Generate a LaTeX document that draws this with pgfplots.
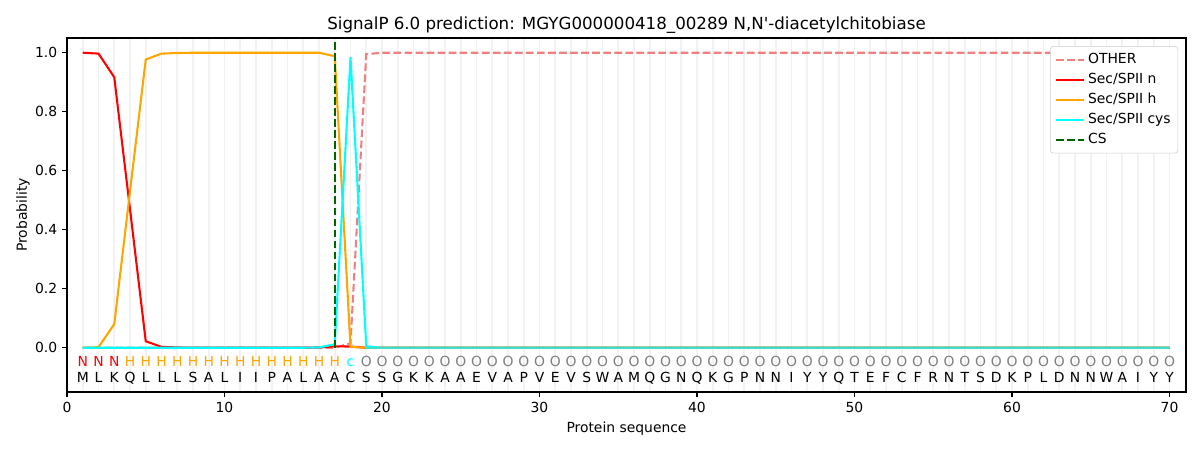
\documentclass[border=0pt]{standalone}
\usepackage{fontspec}
\setmainfont{DejaVu Sans}[Ligatures=TeXOff]
\usepackage{pgfplots}
\pgfplotsset{compat=1.18}
\usepackage{pgfplotstable}
\definecolor{other}{RGB}{240,128,128}
\definecolor{spn}{RGB}{255,0,0}
\definecolor{sph}{RGB}{255,165,0}
\definecolor{spc}{RGB}{0,255,255}
\definecolor{csgreen}{RGB}{0,100,0}
\definecolor{basel}{RGB}{64,224,200}
\definecolor{ogray}{RGB}{128,128,128}
\pgfplotstableread{
x l
1 M
2 L
3 K
4 Q
5 L
6 L
7 L
8 S
9 A
10 L
11 I
12 I
13 P
14 A
15 L
16 A
17 A
18 C
19 S
20 S
21 G
22 K
23 K
24 A
25 A
26 E
27 V
28 A
29 P
30 V
31 E
32 V
33 S
34 W
35 A
36 M
37 Q
38 G
39 N
40 Q
41 K
42 G
43 P
44 N
45 N
46 I
47 Y
48 Y
49 Q
50 T
51 E
52 F
53 C
54 F
55 R
56 N
57 T
58 S
59 D
60 K
61 P
62 L
63 D
64 N
65 N
66 W
67 A
68 I
69 Y
70 Y
}\seqtable
\pgfplotstableread{
x l
1 N
2 N
3 N
}\ntable
\pgfplotstableread{
x l
4 H
5 H
6 H
7 H
8 H
9 H
10 H
11 H
12 H
13 H
14 H
15 H
16 H
17 H
}\htable
\pgfplotstableread{
x l
18 c
}\ctable
\pgfplotstableread{
x l
19 O
20 O
21 O
22 O
23 O
24 O
25 O
26 O
27 O
28 O
29 O
30 O
31 O
32 O
33 O
34 O
35 O
36 O
37 O
38 O
39 O
40 O
41 O
42 O
43 O
44 O
45 O
46 O
47 O
48 O
49 O
50 O
51 O
52 O
53 O
54 O
55 O
56 O
57 O
58 O
59 O
60 O
61 O
62 O
63 O
64 O
65 O
66 O
67 O
68 O
69 O
70 O
}\otable
\begin{document}
\begin{tikzpicture}
\path[use as bounding box] (-48.24pt,-41.76pt) rectangle (815.76pt,282.24pt);
\begin{axis}[
  scale only axis,
  width=805.7pt, height=254.9pt,
  xmin=0, xmax=71.05, ymin=-0.15, ymax=1.05,
  xtick={0,10,...,70},
  ytick={0,0.2,0.4,0.6,0.8,1.0},
  minor xtick={1,...,70},
  xminorgrids,
  minor grid style={draw=black!5, line width=1.1pt},
  minor tick length=0pt,
  major tick length=3.5pt,
  tick align=outside,
  xtick pos=bottom, ytick pos=left,
  axis line style={line width=0.8pt},
  tick style={line width=0.8pt, black},
  yticklabel style={/pgf/number format/fixed, /pgf/number format/precision=1, /pgf/number format/fixed zerofill},
  /pgf/number format/assume math mode=true,
  ticklabel style={font=\fontsize{10}{12}\selectfont},
  label style={font=\fontsize{10}{12}\selectfont},
  xlabel={Protein sequence},
  ylabel={Probability},
  ylabel style={yshift=-3pt},
  title={SignalP 6.0 prediction: MGYG000000418\_00289 N,N'-diacetylchitobiase},
  title style={font=\fontsize{12}{14}\selectfont, yshift=-6.5pt},
  legend style={at={(0.993,0.977)}, anchor=north east, draw=black!20, rounded corners=2pt, fill=white, font=\fontsize{10}{12}\selectfont, row sep=1.4pt, inner sep=3.2pt},
  legend cell align=left,
  legend image code/.code={\draw[#1] plot coordinates {(0cm,0cm) (0.36cm,0cm) (0.72cm,0cm)};},
  every axis plot/.append style={line width=1.5pt},
]
\addplot[other, dash pattern=on 5.55pt off 2.4pt] coordinates {
(1,0)(2,0)(3,0)(4,0)(5,0)(6,0)(7,0)(8,0)(9,0)(10,0)(11,0)(12,0)(13,0)(14,0)(15,0)(16,0)(17,0)(18,0.015)(19,0.995)(20,1)
(21,1)(22,1)(23,1)(24,1)(25,1)(26,1)(27,1)(28,1)(29,1)(30,1)(31,1)(32,1)(33,1)(34,1)(35,1)(36,1)(37,1)(38,1)(39,1)(40,1)
(41,1)(42,1)(43,1)(44,1)(45,1)(46,1)(47,1)(48,1)(49,1)(50,1)(51,1)(52,1)(53,1)(54,1)(55,1)(56,1)(57,1)(58,1)(59,1)(60,1)
(61,1)(62,1)(63,1)(64,1)(65,1)(66,1)(67,1)(68,1)(69,1)(70,1)};
\addlegendentry{OTHER}
\addplot[spn] coordinates {
(1,1.0)(2,0.997)(3,0.917)(4,0.47)(5,0.022)(6,0.003)(7,0.001)(8,0)(9,0)(10,0)(11,0)(12,0)(13,0)(14,0)(15,0)(16,0.001)(17,0.005)(18,0.004)(19,0)(20,0)
(21,0)(22,0)(23,0)(24,0)(25,0)(26,0)(27,0)(28,0)(29,0)(30,0)(31,0)(32,0)(33,0)(34,0)(35,0)(36,0)(37,0)(38,0)(39,0)(40,0)
(41,0)(42,0)(43,0)(44,0)(45,0)(46,0)(47,0)(48,0)(49,0)(50,0)(51,0)(52,0)(53,0)(54,0)(55,0)(56,0)(57,0)(58,0)(59,0)(60,0)
(61,0)(62,0)(63,0)(64,0)(65,0)(66,0)(67,0)(68,0)(69,0)(70,0)};
\addlegendentry{Sec/SPII n}
\addplot[sph] coordinates {
(1,0)(2,0.002)(3,0.08)(4,0.53)(5,0.977)(6,0.997)(7,0.999)(8,1)(9,1)(10,1)(11,1)(12,1)(13,1)(14,1)(15,1)(16,1)(17,0.988)(18,0.003)(19,0)(20,0)
(21,0)(22,0)(23,0)(24,0)(25,0)(26,0)(27,0)(28,0)(29,0)(30,0)(31,0)(32,0)(33,0)(34,0)(35,0)(36,0)(37,0)(38,0)(39,0)(40,0)
(41,0)(42,0)(43,0)(44,0)(45,0)(46,0)(47,0)(48,0)(49,0)(50,0)(51,0)(52,0)(53,0)(54,0)(55,0)(56,0)(57,0)(58,0)(59,0)(60,0)
(61,0)(62,0)(63,0)(64,0)(65,0)(66,0)(67,0)(68,0)(69,0)(70,0)};
\addlegendentry{Sec/SPII h}
\addplot[spc] coordinates {
(1,0)(2,0)(3,0)(4,0)(5,0)(6,0)(7,0)(8,0)(9,0)(10,0)(11,0)(12,0)(13,0)(14,0)(15,0)(16,0.001)(17,0.012)(18,0.985)(19,0.005)(20,0)
(21,0)(22,0)(23,0)(24,0)(25,0)(26,0)(27,0)(28,0)(29,0)(30,0)(31,0)(32,0)(33,0)(34,0)(35,0)(36,0)(37,0)(38,0)(39,0)(40,0)
(41,0)(42,0)(43,0)(44,0)(45,0)(46,0)(47,0)(48,0)(49,0)(50,0)(51,0)(52,0)(53,0)(54,0)(55,0)(56,0)(57,0)(58,0)(59,0)(60,0)
(61,0)(62,0)(63,0)(64,0)(65,0)(66,0)(67,0)(68,0)(69,0)(70,0)};
\addlegendentry{Sec/SPII cys}
\addplot[csgreen, dash pattern=on 5.55pt off 2.4pt] coordinates {(17,0)(17,1.035)};
\addlegendentry{CS}
\addplot[basel, forget plot] coordinates {(19,0)(30,0)(40,0)(50,0)(60,0)(70,0)};
\addplot[draw=none, mark=none, forget plot, nodes near coords, point meta=explicit symbolic,
  nodes near coords style={anchor=base, inner sep=0pt, text=black, font=\fontsize{10}{12}\selectfont}]
  table[x=x, y expr=-0.118, meta=l] {\seqtable};
\addplot[draw=none, mark=none, forget plot, nodes near coords, point meta=explicit symbolic,
  nodes near coords style={anchor=base, inner sep=0pt, text=spn, font=\fontsize{10}{12}\selectfont}]
  table[x=x, y expr=-0.064, meta=l] {\ntable};
\addplot[draw=none, mark=none, forget plot, nodes near coords, point meta=explicit symbolic,
  nodes near coords style={anchor=base, inner sep=0pt, text=sph, font=\fontsize{10}{12}\selectfont}]
  table[x=x, y expr=-0.064, meta=l] {\htable};
\addplot[draw=none, mark=none, forget plot, nodes near coords, point meta=explicit symbolic,
  nodes near coords style={anchor=base, inner sep=0pt, text=spc, font=\fontsize{10}{12}\selectfont}]
  table[x=x, y expr=-0.064, meta=l] {\ctable};
\addplot[draw=none, mark=none, forget plot, nodes near coords, point meta=explicit symbolic,
  nodes near coords style={anchor=base, inner sep=0pt, text=ogray, font=\fontsize{10}{12}\selectfont}]
  table[x=x, y expr=-0.064, meta=l] {\otable};
\end{axis}
\end{tikzpicture}
\end{document}
